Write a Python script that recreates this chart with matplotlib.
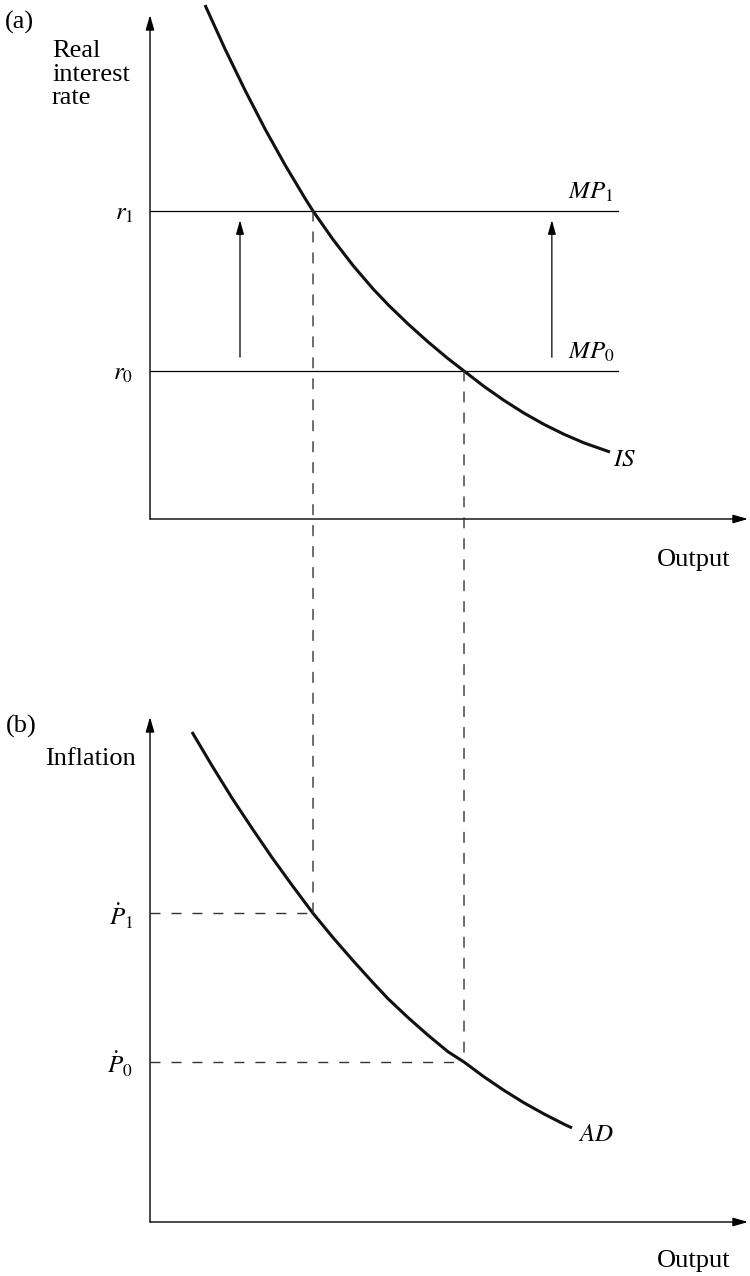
import matplotlib
matplotlib.use('Agg')
import matplotlib.pyplot as plt
from matplotlib.patches import ConnectionPatch

plt.rcParams['font.family'] = ['Liberation Serif', 'DejaVu Serif']
plt.rcParams['mathtext.fontset'] = 'stix'
plt.rcParams['lines.scale_dashes'] = False

# ---------------- data (arbitrary units, 0..100 on each axis) ----------------
is_output = [9.20, 12.54, 15.89, 19.23, 22.58, 25.92, 27.26, 30.60, 33.95, 37.29,
             39.88, 43.14, 46.49, 49.83, 52.51, 55.85, 59.20, 62.54, 65.89, 69.23,
             72.58, 76.92]
is_rate = [101.98, 93.27, 85.08, 77.40, 70.26, 63.63, 61.11, 55.46, 50.30, 45.67,
           42.44, 38.71, 35.14, 31.83, 29.37, 26.31, 23.53, 21.01, 18.77, 16.81,
           15.10, 13.29]

ad_output = [7.02, 10.37, 13.71, 17.06, 20.40, 23.75, 27.26, 30.60, 33.95, 37.29,
             39.80, 43.14, 46.49, 49.83, 52.51, 55.85, 59.20, 62.54, 65.89, 69.23,
             70.57]
ad_inflation = [97.03, 90.35, 83.96, 77.97, 72.18, 66.70, 61.13, 56.32, 51.76, 47.39,
                44.22, 40.49, 36.99, 33.72, 31.68, 28.75, 26.06, 23.60, 21.39, 19.37,
                18.63]

r_levels = [29.37, 61.11]        # r0, r1
r_labels = ['$r_0$', '$r_1$']
mp_labels = ['$MP_0$', '$MP_1$']
mp_end = 78.3
y_levels = [52.51, 27.26]        # Y0, Y1 (output)
p_levels = [31.68, 61.13]        # P0, P1 (inflation)
p_labels = [r'$\dot{P}_0$', r'$\dot{P}_1$']
shift_x = [15.05, 67.2]
shift_from, shift_to = 32.1, 59.3

# ---------------- figure ----------------
W, H = 750, 1276
fig = plt.figure(figsize=(W / 100, H / 100), dpi=100)
FS = 19
MFS = 18


def px_rect(x0, y_top, x1, y_bot):
    return [x0 / W, 1 - y_bot / H, (x1 - x0) / W, (y_bot - y_top) / H]


def ftxt(x, y, s, **kw):
    fig.text(x / W, 1 - y / H, s, fontsize=FS, **kw)


ax_top = fig.add_axes(px_rect(150, 15, 748, 519))
ax_bot = fig.add_axes(px_rect(150, 717, 748, 1222))

axis_arrow = dict(arrowstyle='-|>,head_length=0.9,head_width=0.26', lw=1.0,
                  color='k', shrinkA=0, shrinkB=0)
for ax in (ax_top, ax_bot):
    ax.set_xlim(0, 100)
    ax.set_ylim(0, 100)
    for s in ax.spines.values():
        s.set_visible(False)
    ax.set_xticks([])
    ax.tick_params(axis='y', length=0, pad=12, labelsize=MFS)
    ax.patch.set_alpha(0)
    ax.annotate('', xy=(0, 100), xytext=(0, 0), arrowprops=axis_arrow,
                annotation_clip=False)
    ax.annotate('', xy=(100, 0), xytext=(0, 0), arrowprops=axis_arrow,
                annotation_clip=False)

# top panel
ax_top.set_yticks(r_levels, r_labels)
for r, lab in zip(r_levels, mp_labels):
    ax_top.plot([0, mp_end], [r, r], color='k', lw=0.9)
    ax_top.annotate(lab, xy=(mp_end, r), xytext=(-36, 5), textcoords='offset points',
                    ha='left', va='bottom', fontsize=MFS)
ax_top.plot(is_output, is_rate, color='#111111', lw=2.2, clip_on=False,
            solid_capstyle='butt', solid_joinstyle='round')
ax_top.annotate('$IS$', xy=(is_output[-1], is_rate[-1]), xytext=(2, -6),
                textcoords='offset points', ha='left', va='center', fontsize=MFS)
for x in shift_x:
    ax_top.annotate('', xy=(x, shift_to), xytext=(x, shift_from),
                    arrowprops=dict(arrowstyle='-|>,head_length=0.85,head_width=0.24',
                                    lw=0.9, color='k', shrinkA=0, shrinkB=0))

# bottom panel
ax_bot.set_yticks(p_levels, p_labels)
ax_bot.plot(ad_output, ad_inflation, color='#111111', lw=2.2, clip_on=False,
            solid_capstyle='butt', solid_joinstyle='round')
ax_bot.annotate('$AD$', xy=(ad_output[-1], ad_inflation[-1]), xytext=(4, -5),
                textcoords='offset points', ha='left', va='center', fontsize=MFS)

dash = (0, (7.2, 7.9))
for yv, pv in zip(y_levels, p_levels):
    ax_bot.plot([0, yv], [pv, pv], color='#333333', lw=1.0, ls=dash)

for yv, rv, pv in zip(y_levels, r_levels, p_levels):
    con = ConnectionPatch(xyA=(yv, rv), coordsA=ax_top.transData,
                          xyB=(yv, pv), coordsB=ax_bot.transData,
                          color='#333333', lw=1.0, linestyle=dash)
    fig.add_artist(con)

# texts
ftxt(5, 22, '(a)', ha='left', va='center')
ftxt(52, 57, 'Real', ha='left', va='baseline')
ftxt(52, 81, 'interest', ha='left', va='baseline')
ftxt(52, 104, 'rate', ha='left', va='baseline')
ftxt(657, 566, 'Output', ha='left', va='baseline')
ftxt(6, 726, '(b)', ha='left', va='center')
ftxt(45, 765, 'Inflation', ha='left', va='baseline')
ftxt(657, 1267, 'Output', ha='left', va='baseline')

fig.savefig('out.png', dpi=100)
